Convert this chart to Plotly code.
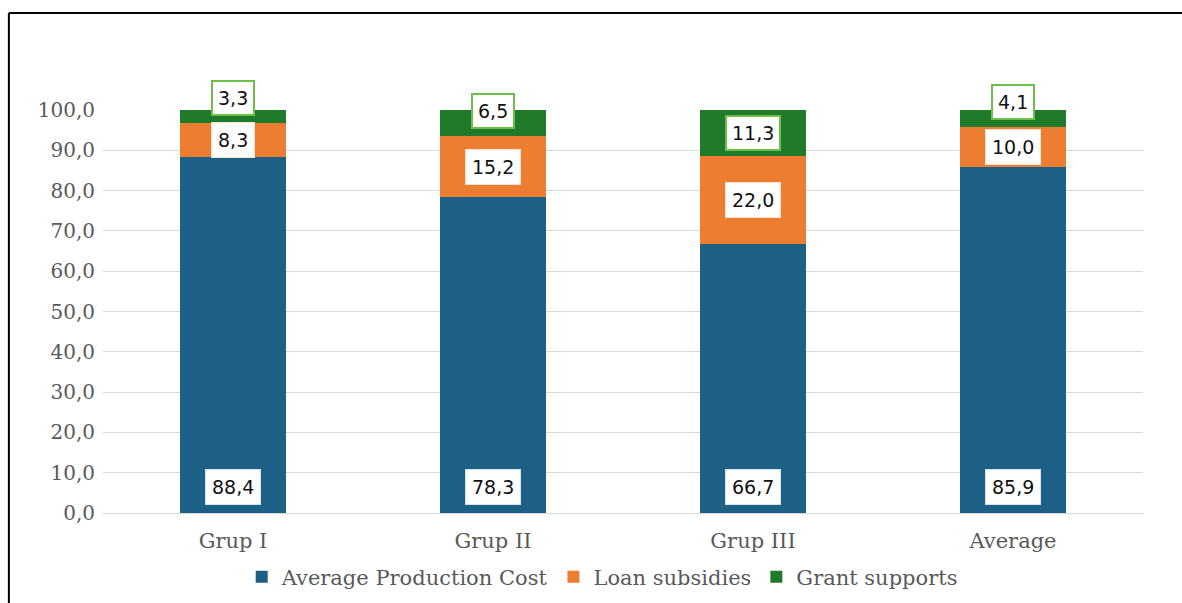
import plotly.graph_objects as go

categories = ["Grup I", "Grup II", "Grup III", "Average"]
production_cost = [88.4, 78.3, 66.7, 85.9]
loan_subsidies = [8.3, 15.2, 22.0, 10.0]
grant_supports = [3.3, 6.5, 11.3, 4.1]
series_names = ["Average Production Cost", "Loan subsidies", "Grant supports"]

colors = ["#1c6085", "#ed7d31", "#1f7a2a"]
label_borders = ["#d6e4ee", "#fbe1cf", "#6dbf4a"]
grant_label_shift = [19, 12, 0, 16]  # manual label offsets (px), as in the source

def fmt(v):
    return f"{v:.1f}".replace(".", ",")

fig = go.Figure()
for name, vals, col in zip(series_names, [production_cost, loan_subsidies, grant_supports], colors):
    fig.add_trace(go.Bar(x=categories, y=vals, name=name, marker=dict(color=col, line=dict(width=0))))

ann_font = dict(family="DejaVu Sans, Arial, sans-serif", size=19, color="#111111")
for i, c in enumerate(categories):
    # production cost: inside base
    fig.add_annotation(x=c, y=0, yanchor="bottom", yshift=8, text=fmt(production_cost[i]),
                       showarrow=False, font=ann_font, bgcolor="white",
                       bordercolor=label_borders[0], borderwidth=1, borderpad=6)
    # loan subsidies: centered
    fig.add_annotation(x=c, y=production_cost[i] + loan_subsidies[i] / 2, text=fmt(loan_subsidies[i]),
                       showarrow=False, font=ann_font, bgcolor="white",
                       bordercolor=label_borders[1], borderwidth=1, borderpad=6)
    # grant supports
    fig.add_annotation(x=c, y=production_cost[i] + loan_subsidies[i] + grant_supports[i] / 2,
                       yshift=grant_label_shift[i], text=fmt(grant_supports[i]),
                       showarrow=False, font=ann_font, bgcolor="white",
                       bordercolor=label_borders[2], borderwidth=2, borderpad=5)

# outer frame (left and top edges visible)
fig.add_shape(type="line", xref="paper", yref="paper", x0=-0.0905, x1=-0.0905, y0=1.2407, y1=-0.3,
              line=dict(color="black", width=2))
fig.add_shape(type="line", xref="paper", yref="paper", x0=-0.0905, x1=1.1, y0=1.2407, y1=1.2407,
              line=dict(color="black", width=2))

serif = "DejaVu Serif, serif"
fig.update_layout(
    width=1182, height=603,
    margin=dict(l=103, r=39, t=110, b=90, autoexpand=False),
    paper_bgcolor="white", plot_bgcolor="white",
    barmode="stack", bargap=0.596,
    separators=",.",
    showlegend=True,
    legend=dict(orientation="h", x=0.48, xanchor="center", xref="paper",
                y=1 - 577 / 603, yanchor="middle", yref="container",
                font=dict(family=serif, size=21, color="#595959"), itemwidth=30,
                traceorder="normal"),
    xaxis=dict(showgrid=False, showline=False, ticks="", ticklabelstandoff=13,
               tickfont=dict(family=serif, size=21, color="#595959")),
    yaxis=dict(range=[0, 100], dtick=10, tickformat=".1f", showgrid=True, gridcolor="#d9d9d9",
               gridwidth=1, zeroline=True, zerolinecolor="#d9d9d9", zerolinewidth=1,
               showline=False, ticks="", ticklabelstandoff=7,
               tickfont=dict(family=serif, size=20, color="#595959")),
)

fig.write_html("out.html", config={"responsive": False, "displayModeBar": False},
               post_script="document.body.style.margin='0';document.body.style.overflow='hidden';")
